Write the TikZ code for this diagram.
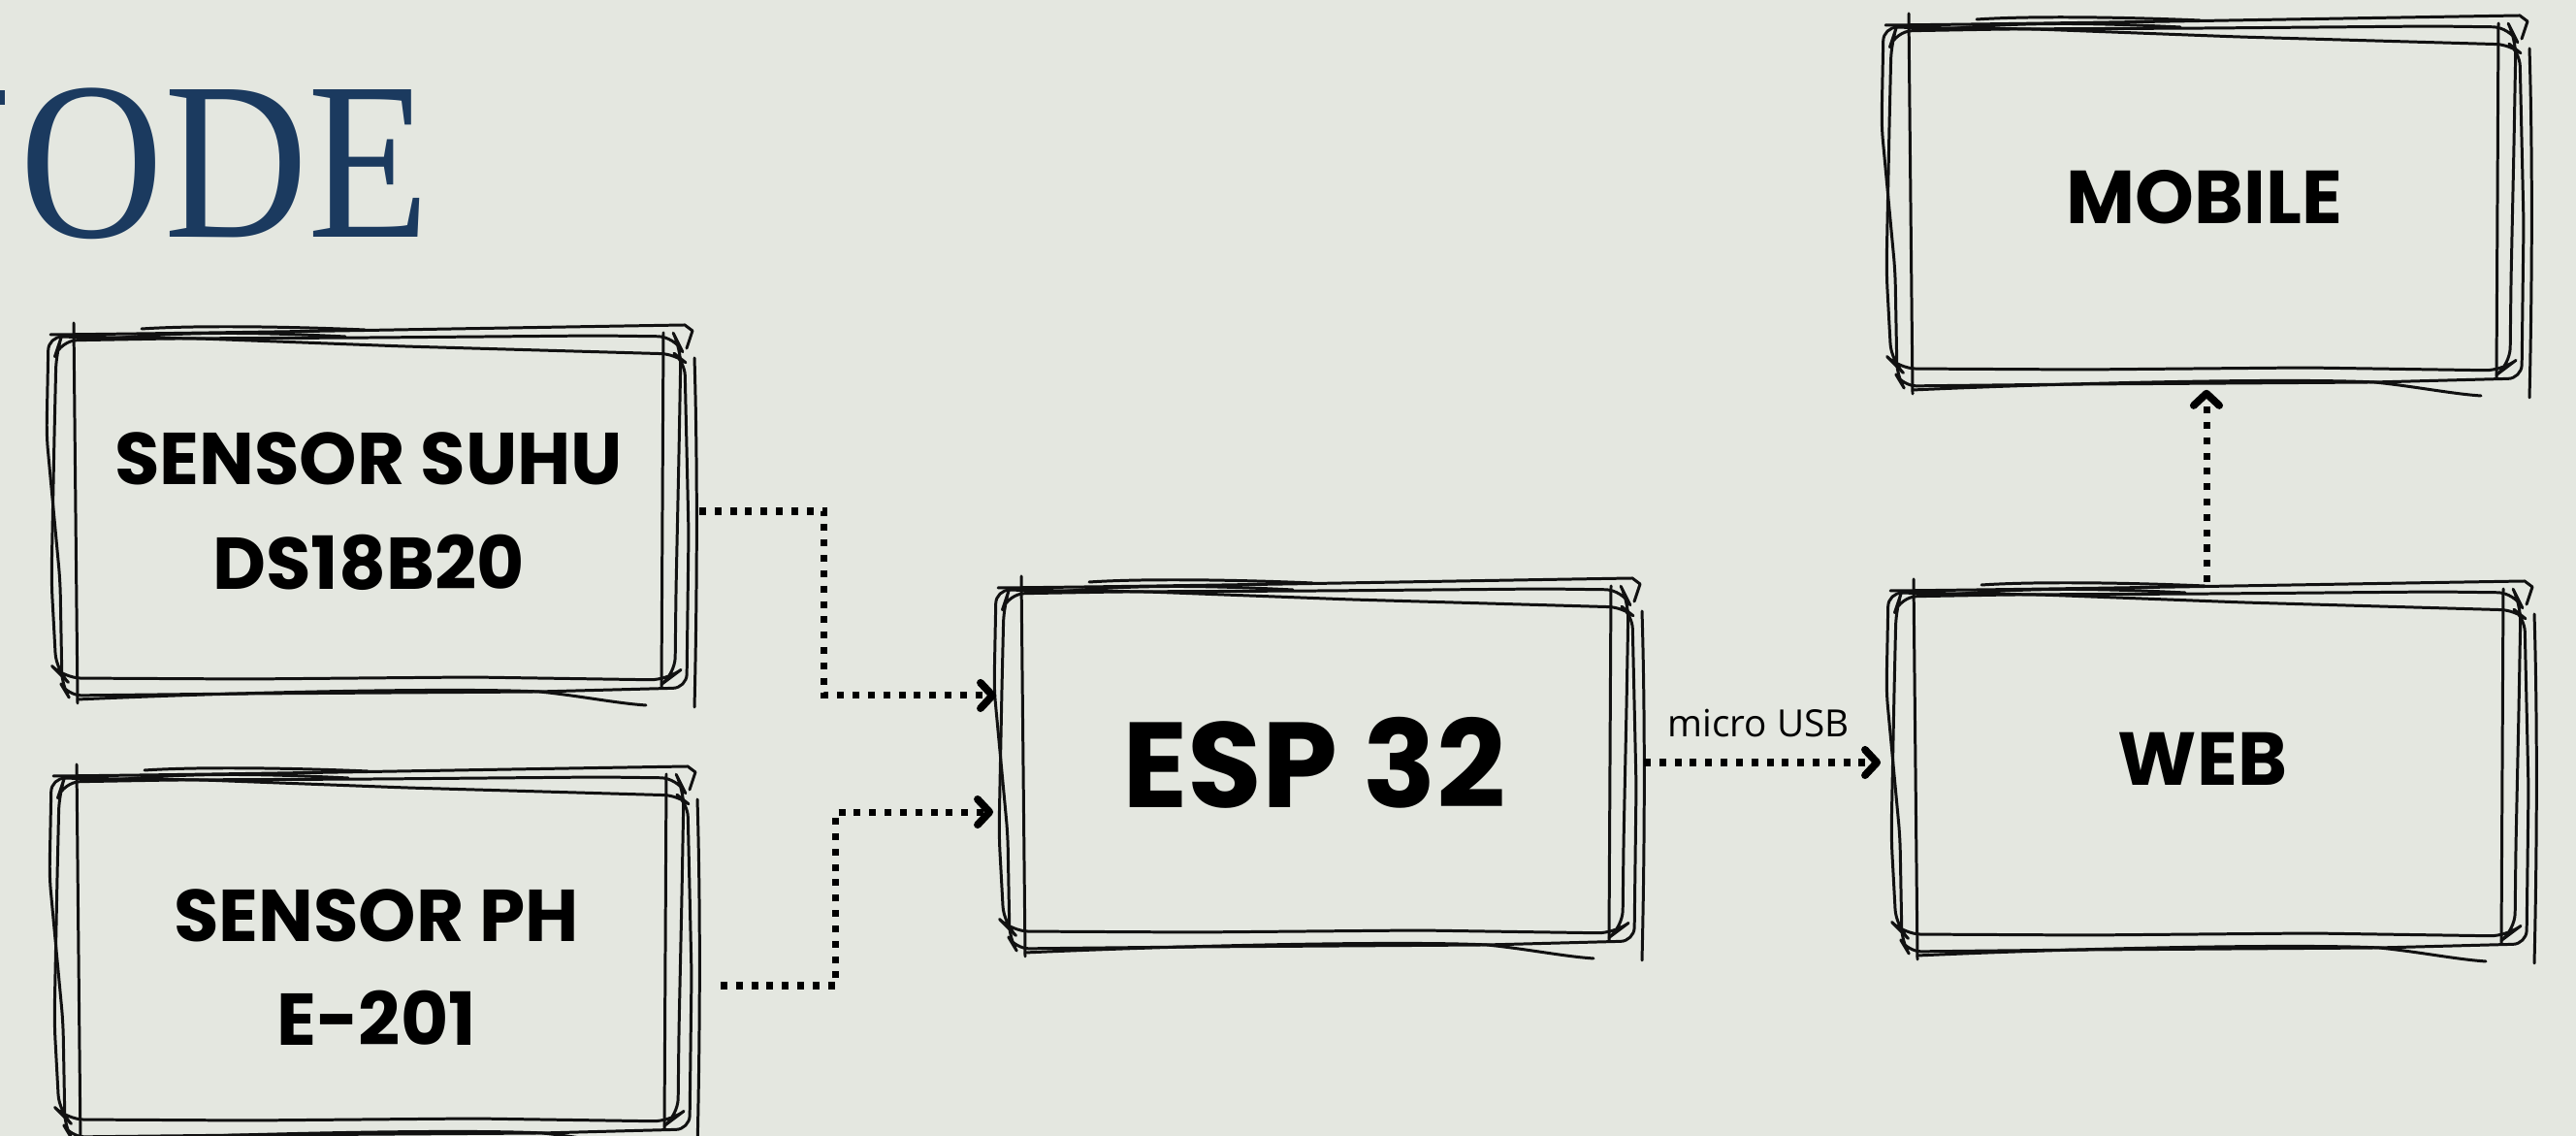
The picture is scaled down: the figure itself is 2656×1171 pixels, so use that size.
\documentclass[tikz,border=0pt]{standalone}
\usepackage{fontspec}
\newfontfamily\boxfont{Poppins}
\newfontfamily\labelfont{Open Sans}
\newfontfamily\titlefont{Liberation Serif}
\usetikzlibrary{arrows.meta,calc}
\definecolor{bgc}{RGB}{228,231,224}
\definecolor{titlec}{RGB}{27,58,95}
\definecolor{inkc}{RGB}{17,17,17}
\newcommand{\sketchstrokes}{%
  \draw[sk, rounded corners=5pt] (2,14) -- (6,2) -- (120,0) -- (330,-1) -- (560,-3) -- (640,-2) -- (646,10) -- (644,120) -- (641,260) -- (640,346) -- (632,352) -- (430,349) -- (200,351) -- (10,350) -- (2,342) -- (-3,250) -- (0,100) -- cycle;
  \draw[sk, rounded corners=4pt] (-6,-2) -- (150,0) -- (360,8) -- (640,16) -- (650,24) -- (654,200) -- (652,360) -- (500,364) -- (200,366) -- (14,368) -- (8,358) -- (6,250) -- (-8,100) -- cycle;
  \draw[sk] (-4,-4) .. controls (200,-6) and (400,-10) .. (650,-14) -- (658,-8) -- (652,10);
  \draw[sk] (90,-10) .. controls (150,-14) and (250,-12) .. (320,-9);
  \draw[sk] (60,0) .. controls (140,-8) and (220,-6) .. (300,-2);
  \draw[sk] (20,-16) -- (24,376);
  \draw[sk] (628,-6) -- (626,360);
  \draw[sk] (660,20) .. controls (664,150) and (662,300) .. (660,380);
  \draw[sk] (24,372) .. controls (200,364) and (420,360) .. (500,364) .. controls (540,368) and (580,376) .. (610,378);
}
\newcommand{\sketch}[3]{\begin{scope}[shift={($(#1.center)+(#2,#3)$)}]\sketchstrokes\end{scope}}
\begin{document}
\begin{tikzpicture}[x=0.01cm, y=-0.01cm,
  sk/.style={draw=inkc, line width=0.85pt, line cap=round, line join=round},
  conn/.style={draw=black, line width=2pt, dash pattern=on 2pt off 2.5pt,
    -{Straight Barb[length=3.5pt, width=7.5pt, line width=2.2pt, round]}},
  boxnode/.style={minimum width=6.44cm, minimum height=3.56cm, inner sep=0pt, align=center, text=black},
  sensorfont/.style={font=\boxfont\bfseries\fontsize{21.5}{30.5}\selectfont},
  smallbox/.style={font=\boxfont\bfseries\fontsize{22}{26}\selectfont}]
\fill[bgc] (0,0) rectangle (2656,1171);
\useasboundingbox (0,0) rectangle (2656,1171);

\node[anchor=base west, text=titlec, inner sep=0pt, font=\titlefont\fontsize{66}{66}\selectfont] (title) at (20,245) {\scalebox{0.885}[1]{ODE}};
\fill[titlec] (0,93) rectangle (5,108);

\node[boxnode, sensorfont] (suhu) at (380,527) {SENSOR SUHU\\DS18B20};
\node[boxnode, sensorfont] (ph) at (388,997) {SENSOR PH\\E-201};
\node[boxnode, font=\boxfont\bfseries\fontsize{35.5}{40}\selectfont] (esp) at (1355,786) {ESP 32};
\node[boxnode, smallbox] (web) at (2271,782) {WEB};
\node[boxnode, smallbox] (mobile) at (2273,203) {MOBILE};

\sketch{suhu}{-324}{-178}
\sketch{ph}{-329}{-193}
\sketch{esp}{-322}{-176}
\sketch{web}{-318}{-169}
\sketch{mobile}{-325}{-173}

\draw[conn, shorten <=0.18cm, shorten >=0.05cm] (suhu.east) -- ++(147,0) |- ([yshift=0.69cm]esp.west);
\draw[conn, shorten <=0.32cm, shorten >=0.08cm] ([yshift=-0.19cm]ph.east) -- ++(151,0) |- ([yshift=-0.51cm]esp.west);
\draw[conn, shorten <=0.17cm, shorten >=0.09cm] (esp.east) -- (esp.east -| web.west)
  node[midway, above=3pt, font=\labelfont\fontsize{11}{11}\selectfont] (usb) {micro USB};
\draw[conn, shorten <=0.03cm, shorten >=0.2cm] ([xshift=0.04cm]web.north) -- ([xshift=0.04cm]web.north |- mobile.south);
\end{tikzpicture}
\end{document}
